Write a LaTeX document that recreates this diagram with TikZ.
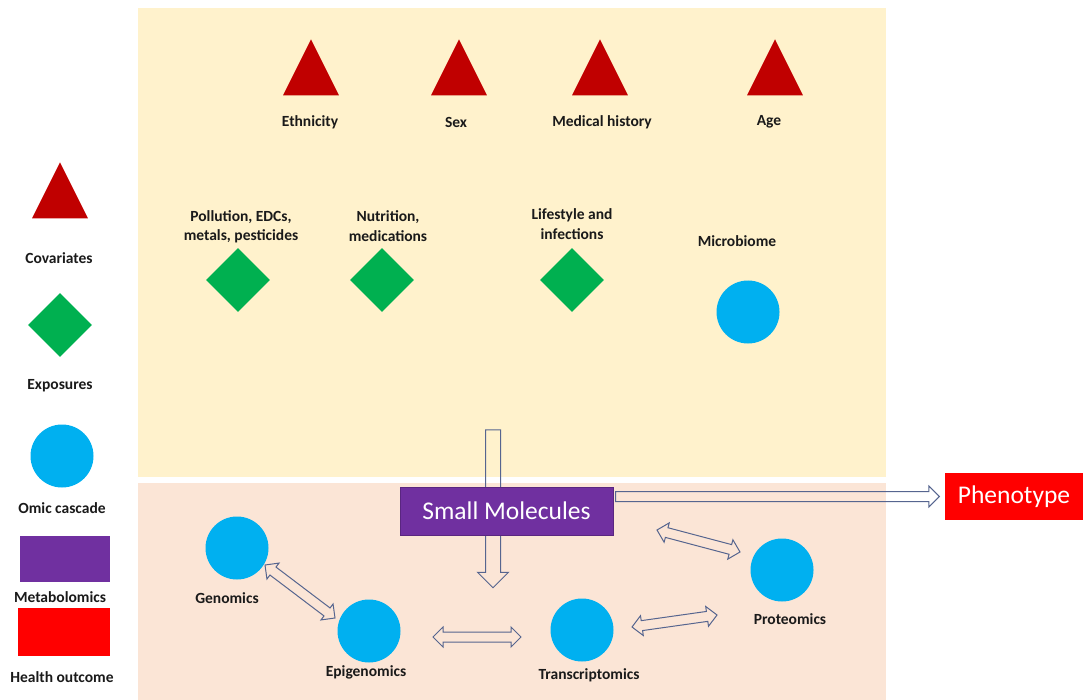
\documentclass[tikz,border=0pt]{standalone}
\usepackage{fontspec}
\setmainfont{Carlito}
\usetikzlibrary{shapes.geometric,shapes.arrows,calc}

\definecolor{covred}{HTML}{C00000}
\definecolor{expgreen}{HTML}{00B050}
\definecolor{omicblue}{HTML}{00B0F0}
\definecolor{metapurple}{HTML}{7030A0}
\definecolor{outred}{HTML}{FF0000}
\definecolor{topbg}{HTML}{FFF2CC}
\definecolor{botbg}{HTML}{FBE5D6}
\definecolor{arrowline}{HTML}{56658F}
\definecolor{lbltext}{HTML}{1A1A1A}

\tikzset{
  cov/.style={isosceles triangle, isosceles triangle apex angle=53,
    shape border rotate=90, fill=covred, inner sep=0pt, minimum height=56pt},
  expo/.style={diamond, fill=expgreen, inner sep=0pt, minimum size=64pt},
  omic/.style={circle, fill=omicblue, inner sep=0pt, minimum size=63pt},
  lbl/.style={font=\bfseries\fontsize{15.5}{19.5}\selectfont, text=lbltext,
    align=center, inner sep=0pt},
  bigbox/.style={text=white, font=\fontsize{25.5}{30}\selectfont, inner sep=0pt},
  blockarrow/.style={single arrow, draw=arrowline, line width=1pt, inner xsep=0pt,
    single arrow head indent=0pt, sloped, allow upside down, midway},
  twoway/.style={double arrow, draw=arrowline, line width=1pt, inner xsep=0pt,
    inner ysep=4.5pt, double arrow head extend=5pt, double arrow head indent=0pt,
    sloped, allow upside down, midway},
}

\begin{document}
\begin{tikzpicture}[x=1pt, y=-1pt]
  \useasboundingbox (0,0) rectangle (1083,700);
  % panels
  \fill[topbg] (138,8) rectangle (886,477);
  \fill[botbg] (138,483) rectangle (886,700);

  % legend
  \node[cov] (Lcov) at (60,201) {};
  \node[lbl] (Lcovt) at (59,258) {Covariates};
  \node[expo] (Lexp) at (60,325) {};
  \node[lbl] (Lexpt) at (60,386) {Exposures};
  \node[omic] (Lomic) at (62,456) {};
  \node[lbl] (Lomict) at (62,508) {Omic cascade};
  \node[fill=metapurple, minimum width=90pt, minimum height=46pt, inner sep=0pt] (Lmet) at (65,559) {};
  \node[lbl] (Lmett) at (60,597) {Metabolomics};
  \node[fill=outred, minimum width=92pt, minimum height=48pt, inner sep=0pt] (Lout) at (64,632) {};
  \node[lbl] (Loutt) at (62,677) {Health outcome};

  % covariates
  \node[cov] (eth) at (311,78) {};
  \node[lbl] (etht) at (310,122) {Ethnicity};
  \node[cov] (sex) at (459,78) {};
  \node[lbl] (sext) at (456,122) {Sex};
  \node[cov] (med) at (600,78) {};
  \node[lbl] (medt) at (602,122) {Medical history};
  \node[cov] (age) at (775,78) {};
  \node[lbl] (aget) at (769,122) {Age};

  % exposures
  \node[lbl] (pollt) at (241,227) {Pollution, EDCs,\\metals, pesticides};
  \node[expo] (poll) at (238,280) {};
  \node[lbl] (nutt) at (388,226) {Nutrition,\\medications};
  \node[expo] (nut) at (382,280) {};
  \node[lbl] (lifet) at (572,224) {Lifestyle and\\infections};
  \node[expo] (life) at (572,280) {};
  \node[lbl] (microt) at (737,241) {Microbiome};
  \node[omic] (micro) at (748,312) {};

  % omic cascade
  \node[omic] (gen) at (237,548) {};
  \node[lbl] (gent) at (227,598) {Genomics};
  \node[omic] (epi) at (369,631) {};
  \node[lbl] (epit) at (366,672) {Epigenomics};
  \node[omic] (tran) at (582,630) {};
  \node[lbl] (trant) at (589,675) {Transcriptomics};
  \node[omic] (prot) at (782,570) {};
  \node[lbl] (prott) at (790,619) {Proteomics};

  % flow into small molecules
  \coordinate (vtop) at (493,426);
  \coordinate (vbot) at (493,584);
  \path let \p1=($(vbot)-(vtop)$), \n1={veclen(\x1,\y1)} in
    (vtop) -- (vbot) node[blockarrow, minimum height=\n1, inner ysep=7pt,
      single arrow head extend=8pt] {};

  \node[bigbox, fill=metapurple, draw=metapurple!80!black, minimum width=213pt,
    minimum height=48pt] (small) at (506.5,511) {Small Molecules};
  \node[bigbox, fill=outred, minimum width=138pt, minimum height=47pt]
    (pheno) at (1014,496.5) {Phenotype};

  \coordinate (hend) at ($(pheno.west)+(-8,0)$);
  \path let \p1=($(hend)-(small.east |- pheno)$), \n1={veclen(\x1,\y1)} in
    (small.east |- pheno) -- (hend) node[blockarrow, minimum height=\n1,
      inner ysep=4.5pt, single arrow head extend=5.5pt] {};

  % two-way links
  \coordinate (g1) at ($(gen)+(28,17)$);
  \coordinate (e1) at ($(epi)+(-34,-13)$);
  \path let \p1=($(e1)-(g1)$), \n1={veclen(\x1,\y1)} in
    (g1) -- (e1) node[twoway, minimum height=\n1] {};
  \coordinate (e2) at ($(epi)+(64,6)$);
  \coordinate (t1) at ($(tran)+(-61,7)$);
  \path let \p1=($(t1)-(e2)$), \n1={veclen(\x1,\y1)} in
    (e2) -- (t1) node[twoway, minimum height=\n1] {};
  \coordinate (t2) at ($(tran)+(50,-3)$);
  \coordinate (p1) at ($(prot)+(-65,45)$);
  \path let \p1=($(p1)-(t2)$), \n1={veclen(\x1,\y1)} in
    (t2) -- (p1) node[twoway, minimum height=\n1] {};
  \coordinate (s1) at ($(prot)+(-125,-40)$);
  \coordinate (p2) at ($(prot)+(-42,-18)$);
  \path let \p1=($(p2)-(s1)$), \n1={veclen(\x1,\y1)} in
    (s1) -- (p2) node[twoway, minimum height=\n1] {};
\end{tikzpicture}
\end{document}
